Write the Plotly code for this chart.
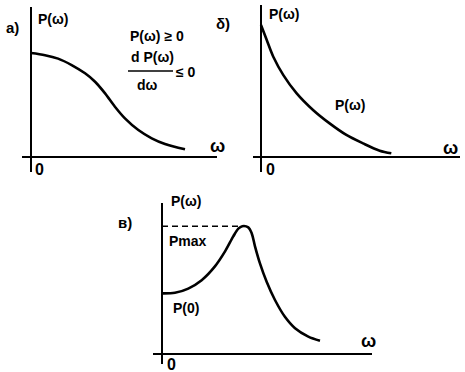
import plotly.graph_objects as go

W, H = 465, 372

# ---- data ----
# panel a): monotonically decreasing, smooth S-shaped spectrum
a_w = [0, 0.91, 1.76, 2.64, 3.51, 4.16, 4.81, 5.45, 6.10, 6.97, 7.84, 8.70, 10.0]
a_p = [0.99, 0.97, 0.937, 0.876, 0.797, 0.717, 0.606, 0.479, 0.368, 0.257, 0.178, 0.124, 0.073]

# panel б): convex decreasing spectrum
b_w = [0, 0.44, 0.94, 1.71, 2.73, 3.98, 5.25, 6.53, 7.80, 9.08, 9.97]
b_p = [1.257, 1.114, 0.955, 0.78, 0.606, 0.448, 0.32, 0.21, 0.13, 0.06, 0.035]

# panel в): spectrum with a maximum
c_w = [0, 0.82, 1.66, 2.51, 3.35, 3.99, 4.51, 4.83, 5.08, 5.46, 5.68, 5.89, 6.20, 6.63, 7.15, 7.78, 8.42, 9.26, 10.0]
c_p = [1.01, 1.02, 1.09, 1.23, 1.46, 1.71, 1.96, 2.09, 2.13, 2.11, 2.01, 1.79, 1.51, 1.20, 0.90, 0.62, 0.43, 0.29, 0.22]
c_pmax = 2.13
c_wmax = 4.94


def px(x):
    return x / W


def py(y):
    return 1 - y / H


fig = go.Figure()

line = dict(color="black", width=2.6, shape="spline", smoothing=0.9)
fig.add_trace(go.Scatter(x=a_w, y=a_p, mode="lines", line=line, xaxis="x", yaxis="y"))
fig.add_trace(go.Scatter(x=b_w, y=b_p, mode="lines", line=line, xaxis="x2", yaxis="y2"))
fig.add_trace(go.Scatter(x=c_w, y=c_p, mode="lines", line=line, xaxis="x3", yaxis="y3"))
fig.add_trace(go.Scatter(x=[0, c_wmax], y=[c_pmax, c_pmax], mode="lines",
                         line=dict(color="black", width=1.6, dash="6px,4px"),
                         xaxis="x3", yaxis="y3"))


def ax(domain, rng, anchor):
    return dict(domain=domain, range=rng, anchor=anchor, showgrid=False,
                showticklabels=False, ticks="", showline=False,
                zeroline=True, zerolinecolor="black", zerolinewidth=2.2,
                fixedrange=True)


layout = dict(
    width=W, height=H, margin=dict(l=0, r=0, t=0, b=0),
    paper_bgcolor="white", plot_bgcolor="white", showlegend=False,
    font=dict(family="Liberation Sans Narrow, Liberation Sans, Arial, sans-serif",
              color="black", size=14, weight="bold"),
    # panel a
    xaxis=ax([px(22), px(217)], [(22 - 31) / 15.4, (217 - 31) / 15.4], "y"),
    yaxis=ax([py(172), py(7)], [(157 - 172) / 105, (157 - 7) / 105], "x"),
    # panel б
    xaxis2=ax([px(253), px(460)], [(253 - 261) / 13.07, (460 - 261) / 13.07], "y2"),
    yaxis2=ax([py(172), py(5)], [(157 - 172) / 105, (157 - 5) / 105], "x2"),
    # panel в
    xaxis3=ax([px(153), px(372)], [(153 - 162) / 15.8, (372 - 162) / 15.8], "y3"),
    yaxis3=ax([py(364), py(203)], [(354 - 364) / 60, (354 - 203) / 60], "x3"),
)
fig.update_layout(**layout)

ann = []


def t(text, x, y, size=14, xanchor="center"):
    ann.append(dict(text=text, x=px(x), y=py(y), xref="paper", yref="paper",
                    showarrow=False, xanchor=xanchor, yanchor="middle",
                    font=dict(size=size, color="black", weight="bold")))


# panel a
t("a)", 12, 27, 15)
t("P(ω)", 53, 19)
t("P(ω) ≥ 0", 157, 36)
t("d P(ω)", 152, 57)
t("dω", 147, 85)
t("≤ 0", 186, 72)
t("ω", 217, 146, 18)
t("0", 39, 169, 16)
# panel б
t("δ)", 223, 24, 15)
t("P(ω)", 284, 14)
t("P(ω)", 350, 105)
t("ω", 450, 148, 18)
t("0", 270, 169, 16)
# panel в
t("в)", 125, 222, 15)
t("P(ω)", 186, 201)
t("Pmax", 188, 241)
t("P(0)", 186, 308)
t("ω", 368, 341, 18)
t("0", 171, 364, 16)

fig.update_layout(annotations=ann)
# fraction bar of the derivative
fig.add_shape(type="line", xref="paper", yref="paper",
              x0=px(128), x1=px(173), y0=py(71), y1=py(71),
              line=dict(color="black", width=1.5))

fig.write_html("out.html", config={"displayModeBar": False},
               post_script="document.body.style.margin='0';document.body.style.overflow='hidden';")
